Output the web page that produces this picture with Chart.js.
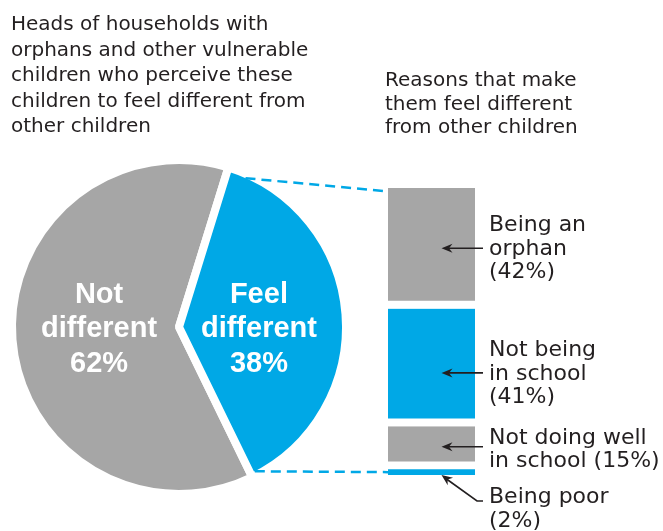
<!DOCTYPE html>
<html>
<head>
<meta charset="utf-8">
<script src="https://cdn.jsdelivr.net/npm/chart.js@4.4.1/dist/chart.umd.min.js"></script>
<style>
  html, body { margin: 0; padding: 0; background: #ffffff; width: 663px; height: 531px; overflow: hidden; }
  #wrap { position: relative; width: 663px; height: 531px; }
  canvas { position: absolute; left: 0; top: 0; }
  .title { position: absolute; font-family: "DejaVu Sans", sans-serif; font-size: 20px; color: #231f20; white-space: nowrap; }
</style>
</head>
<body>
<div id="wrap">
  <canvas id="bar" width="663" height="531"></canvas>
  <canvas id="pie" width="663" height="531"></canvas>
  <div class="title" id="leftTitle" style="left:11px; top:11px; line-height:25.6px;"></div>
  <div class="title" id="rightTitle" style="left:385px; top:68px; line-height:23.6px;"></div>
</div>
<script>
// ---------------- data ----------------
const leftTitleLines = [
  'Heads of households with',
  'orphans and other vulnerable',
  'children who perceive these',
  'children to feel different from',
  'other children'
];
const rightTitleLines = [
  'Reasons that make',
  'them feel different',
  'from other children'
];
const sliceLabelLines = [['Not', 'different'], ['Feel', 'different']];
const sliceValues = [62, 38];
const reasonLines = [['Being an', 'orphan'], ['Not being', 'in school'], ['Not doing well', 'in school'], ['Being poor']];
const reasonValues = [42, 41, 15, 2];

// ---------------- styles / layout ----------------
const GREY = '#a6a6a6';
const BLUE = '#00a8e6';
const TEXT = '#231f20';
const sliceColors = [GREY, BLUE];
const reasonColors = [GREY, BLUE, GREY, BLUE];
const annotLayout = [
  { arrowDy: 4, textDy: -17, pctNewLine: true },
  { arrowDy: 9.5, textDy: -16.7, pctNewLine: true },
  { arrowDy: 3, textDy: -3.2, pctNewLine: false },
  { elbow: true, elbowDy: 26, textDy: 2, pctNewLine: true }
];

document.getElementById('leftTitle').innerHTML = leftTitleLines.join('<br>');
document.getElementById('rightTitle').innerHTML = rightTitleLines.join('<br>');

function arrowHead(ctx, tx, ty, angle) {
  ctx.save();
  ctx.translate(tx, ty);
  ctx.rotate(angle);
  ctx.beginPath();
  ctx.moveTo(0, 0);
  ctx.lineTo(11, -4.5);
  ctx.lineTo(7.5, 0);
  ctx.lineTo(11, 4.5);
  ctx.closePath();
  ctx.fill();
  ctx.restore();
}

const annotPlugin = {
  id: 'annot',
  afterDatasetsDraw(chart) {
    const ctx = chart.ctx;
    const ca = chart.chartArea;
    const ys = chart.scales.y;
    const tipX = (ca.left + ca.right) / 2 + 10;
    const tailX = ca.right + 8;
    const textX = ca.right + 14;
    const lh = 23.5;
    ctx.save();
    ctx.fillStyle = TEXT;
    ctx.strokeStyle = TEXT;
    ctx.lineWidth = 1.6;
    ctx.font = '22px "DejaVu Sans"';
    ctx.textAlign = 'left';
    ctx.textBaseline = 'alphabetic';
    let cum = 0;
    reasonValues.forEach((v, i) => {
      const lay = annotLayout[i];
      const top = ys.getPixelForValue(cum);
      const bottom = ys.getPixelForValue(cum + v);
      cum += v;
      const border = i < reasonValues.length - 1 ? 8 : 0;
      const mid = (top + bottom - border) / 2;
      const lines = reasonLines[i].slice();
      const pct = '(' + v + '%)';
      if (lay.pctNewLine) lines.push(pct); else lines[lines.length - 1] += ' ' + pct;
      let baseY;
      if (lay.elbow) {
        const ty = bottom;
        const ey = ty + lay.elbowDy;
        const ex = ca.right + 2;
        ctx.beginPath();
        ctx.moveTo(tipX + 5, ty + 4);
        ctx.lineTo(ex, ey);
        ctx.lineTo(tailX, ey);
        ctx.stroke();
        arrowHead(ctx, tipX, ty, Math.atan2(ey - ty, ex - tipX));
        baseY = ey + lay.textDy;
      } else {
        const ay = mid + lay.arrowDy;
        ctx.beginPath();
        ctx.moveTo(tipX + 7, ay);
        ctx.lineTo(tailX, ay);
        ctx.stroke();
        arrowHead(ctx, tipX, ay, 0);
        baseY = ay + lay.textDy;
      }
      lines.forEach((t, k) => ctx.fillText(t, textX, baseY + k * lh));
    });
    ctx.restore();
  }
};

const barChart = new Chart(document.getElementById('bar'), {
  type: 'bar',
  data: {
    labels: [''],
    datasets: reasonValues.map((v, i) => ({
      label: reasonLines[i].join(' '),
      data: [v],
      backgroundColor: reasonColors[i],
      borderColor: '#ffffff',
      borderWidth: i < reasonValues.length - 1 ? { top: 0, right: 0, bottom: 8, left: 0 } : 0,
      borderSkipped: false,
      barPercentage: 1,
      categoryPercentage: 1
    }))
  },
  options: {
    responsive: false,
    animation: false,
    events: [],
    layout: { padding: { left: 388, right: 188, top: 188, bottom: 56 } },
    plugins: { legend: { display: false }, tooltip: { enabled: false } },
    scales: {
      x: { display: false, stacked: true },
      y: { display: false, stacked: true, reverse: true, min: 0, max: 100 }
    }
  },
  plugins: [annotPlugin]
});

const pieLabelPlugin = {
  id: 'pieLabels',
  afterDatasetsDraw(chart) {
    const ctx = chart.ctx;
    const meta = chart.getDatasetMeta(0);
    ctx.save();
    ctx.fillStyle = '#ffffff';
    ctx.font = 'bold 29px "Liberation Sans", Arial, sans-serif';
    ctx.textAlign = 'center';
    ctx.textBaseline = 'alphabetic';
    meta.data.forEach((arc, i) => {
      const p = arc.getProps(['x', 'y', 'startAngle', 'endAngle', 'outerRadius'], true);
      const midA = (p.startAngle + p.endAngle) / 2;
      const cx = p.x + Math.cos(midA) * p.outerRadius * 0.48;
      const lines = sliceLabelLines[i].concat([sliceValues[i] + '%']);
      lines.forEach((t, k) => ctx.fillText(t, cx, p.y + 10.3 + (k - 1) * 34.3));
    });
    ctx.restore();
  }
};

const connectorPlugin = {
  id: 'connectors',
  afterDatasetsDraw(chart) {
    const ctx = chart.ctx;
    const arc = chart.getDatasetMeta(0).data[1];
    const p = arc.getProps(['x', 'y', 'startAngle', 'endAngle', 'outerRadius'], true);
    const r = p.outerRadius - 4;
    const a1 = p.startAngle + 0.12;
    const a2 = p.endAngle - 0.03;
    const ca = barChart.chartArea;
    const ys = barChart.scales.y;
    const topY = ys.getPixelForValue(0);
    const lastMid = ys.getPixelForValue(100 - reasonValues[reasonValues.length - 1] / 2);
    ctx.save();
    ctx.strokeStyle = BLUE;
    ctx.lineWidth = 2.5;
    ctx.setLineDash([10, 6]);
    ctx.beginPath();
    ctx.moveTo(p.x + Math.cos(a1) * r, p.y + Math.sin(a1) * r);
    ctx.lineTo(ca.left - 4, topY + 3);
    ctx.stroke();
    ctx.beginPath();
    ctx.moveTo(p.x + Math.cos(a2) * r, p.y + Math.sin(a2) * r);
    ctx.lineTo(ca.left, lastMid);
    ctx.stroke();
    ctx.restore();
  }
};

const pieChart = new Chart(document.getElementById('pie'), {
  type: 'pie',
  data: {
    labels: sliceLabelLines.map(l => l.join(' ')),
    datasets: [{
      data: sliceValues,
      backgroundColor: sliceColors,
      borderColor: '#ffffff',
      borderWidth: 8
    }]
  },
  options: {
    responsive: false,
    animation: false,
    events: [],
    radius: 167,
    rotation: 154,
    layout: { padding: { left: 0, right: 305, top: 160, bottom: 37 } },
    plugins: { legend: { display: false }, tooltip: { enabled: false } }
  },
  plugins: [pieLabelPlugin, connectorPlugin]
});
</script>
</body>
</html>
